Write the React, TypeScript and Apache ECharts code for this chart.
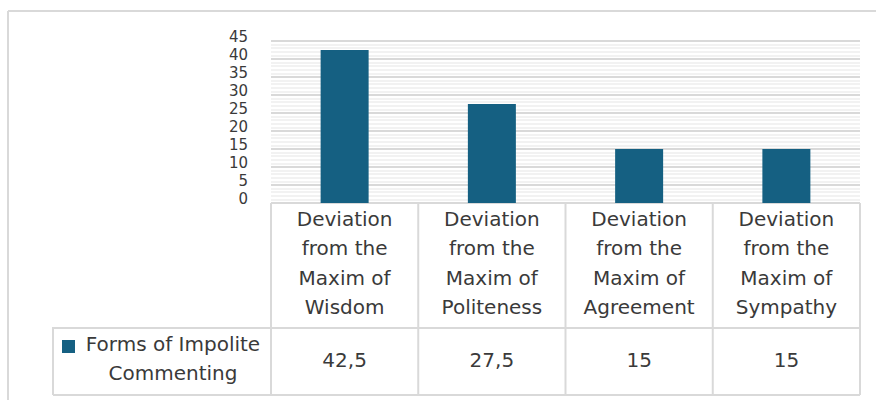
import React, { useEffect, useRef } from "react";
import * as echarts from "echarts";

// Data
const categories = [
  "Deviation from the Maxim of Wisdom",
  "Deviation from the Maxim of Politeness",
  "Deviation from the Maxim of Agreement",
  "Deviation from the Maxim of Sympathy",
];
const seriesName = "Forms of Impolite Commenting";
const seriesValues = [42.5, 27.5, 15, 15];
const yTicks = [0, 5, 10, 15, 20, 25, 30, 35, 40, 45];

// Layout
const W = 876;
const H = 400;
const GRID_LEFT = 271;
const GRID_TOP = 41;
const GRID_RIGHT = 860;
const GRID_BOTTOM = 203;
const LABEL_LIFT = 4;
const TABLE_MID = 328;
const TABLE_BOTTOM = 395;
const LEGEND_LEFT = 53;
const BAR_COLOR = "#156082";
const BORDER = "#d9d9d9";
const TEXT = "#3a3a3a";
const TABLE_FONT = "DejaVu Sans";
const TABLE_SIZE = 20;

const wrapCategory = (s: string) =>
  s.replace(/^(Deviation) (from the) (Maxim of) (.*)$/, "$1\n$2\n$3\n$4");
const formatValue = (v: number) => String(v).replace(".", ",");

export default function App() {
  const ref = useRef<HTMLDivElement>(null);

  useEffect(() => {
    if (!ref.current) return;
    const chart = echarts.init(ref.current, undefined, { renderer: "svg" });

    const colW = (GRID_RIGHT - GRID_LEFT) / categories.length;
    const line = (x1: number, y1: number, x2: number, y2: number) => ({
      type: "line",
      shape: { x1, y1, x2, y2 },
      style: { stroke: BORDER, lineWidth: 2 },
      silent: true,
    });

    const tableLines: any[] = [
      // outer chart frame
      line(8, 11, W + 10, 11),
      line(8, 11, 8, H + 10),
      // table rules
      line(GRID_LEFT, GRID_BOTTOM, GRID_RIGHT, GRID_BOTTOM),
      line(LEGEND_LEFT, TABLE_MID, GRID_RIGHT, TABLE_MID),
      line(LEGEND_LEFT, TABLE_BOTTOM, GRID_RIGHT, TABLE_BOTTOM),
      line(LEGEND_LEFT, TABLE_MID - 1, LEGEND_LEFT, TABLE_BOTTOM),
    ];
    for (let i = 0; i <= categories.length; i++) {
      const x = GRID_LEFT + i * colW;
      tableLines.push(line(x, GRID_BOTTOM, x, TABLE_BOTTOM));
    }

    const headerTexts = categories.map((c, i) => ({
      type: "text",
      x: GRID_LEFT + (i + 0.5) * colW,
      y: 263,
      style: {
        text: wrapCategory(c),
        fontFamily: TABLE_FONT,
        fontSize: TABLE_SIZE,
        lineHeight: 29.5,
        fill: TEXT,
        align: "center",
        verticalAlign: "middle",
      },
    }));

    const valueTexts = seriesValues.map((v, i) => ({
      type: "text",
      x: GRID_LEFT + (i + 0.5) * colW,
      y: 360,
      style: {
        text: formatValue(v),
        fontFamily: TABLE_FONT,
        fontSize: TABLE_SIZE,
        fill: TEXT,
        align: "center",
        verticalAlign: "middle",
      },
    }));

    const legend: any[] = [
      {
        type: "rect",
        shape: { x: 62, y: 340, width: 13, height: 13 },
        style: { fill: BAR_COLOR },
      },
      {
        type: "text",
        x: 173,
        y: 358.5,
        style: {
          text: seriesName.replace("Impolite ", "Impolite\n"),
          fontFamily: TABLE_FONT,
          fontSize: TABLE_SIZE,
          lineHeight: 29,
          fill: TEXT,
          align: "center",
          verticalAlign: "middle",
        },
      },
    ];

    const valueRange = {
      type: "value",
      min: yTicks[0],
      max: yTicks[yTicks.length - 1],
      interval: yTicks[1] - yTicks[0],
      axisLine: { show: false },
      axisTick: { show: false },
    };

    chart.setOption({
      animation: false,
      grid: [
        {
          left: GRID_LEFT,
          top: GRID_TOP,
          width: GRID_RIGHT - GRID_LEFT,
          height: GRID_BOTTOM - GRID_TOP,
        },
        // tick labels sit slightly above their gridlines
        {
          left: GRID_LEFT,
          top: GRID_TOP - LABEL_LIFT,
          width: GRID_RIGHT - GRID_LEFT,
          height: GRID_BOTTOM - GRID_TOP,
        },
      ],
      xAxis: [
        {
          type: "category",
          gridIndex: 0,
          data: categories,
          axisLine: { show: false },
          axisTick: { show: false },
          axisLabel: { show: false },
        },
        {
          type: "category",
          gridIndex: 1,
          data: categories,
          show: false,
        },
      ],
      yAxis: [
        {
          ...valueRange,
          gridIndex: 0,
          axisLabel: { show: false },
          splitLine: { show: true, lineStyle: { color: BORDER, width: 2 } },
          minorTick: { show: false, splitNumber: 5 },
          minorSplitLine: { show: true, lineStyle: { color: "#eeeeee", width: 1.5 } },
        },
        {
          ...valueRange,
          gridIndex: 1,
          splitLine: { show: false },
          axisLabel: {
            fontFamily: "DejaVu Sans",
            fontSize: 15,
            lineHeight: 15,
            color: TEXT,
            margin: 23,
            showMinLabel: true,
            showMaxLabel: true,
            hideOverlap: false,
          },
        },
      ],
      series: [
        {
          name: seriesName,
          type: "bar",
          xAxisIndex: 0,
          yAxisIndex: 0,
          data: seriesValues,
          barWidth: 48,
          itemStyle: { color: BAR_COLOR },
        },
      ],
      graphic: [...tableLines, ...headerTexts, ...valueTexts, ...legend],
    });

    return () => chart.dispose();
  }, []);

  return (
    <div
      ref={ref}
      style={{ position: "fixed", left: 0, top: 0, width: W, height: H, background: "#fff" }}
    />
  );
}
